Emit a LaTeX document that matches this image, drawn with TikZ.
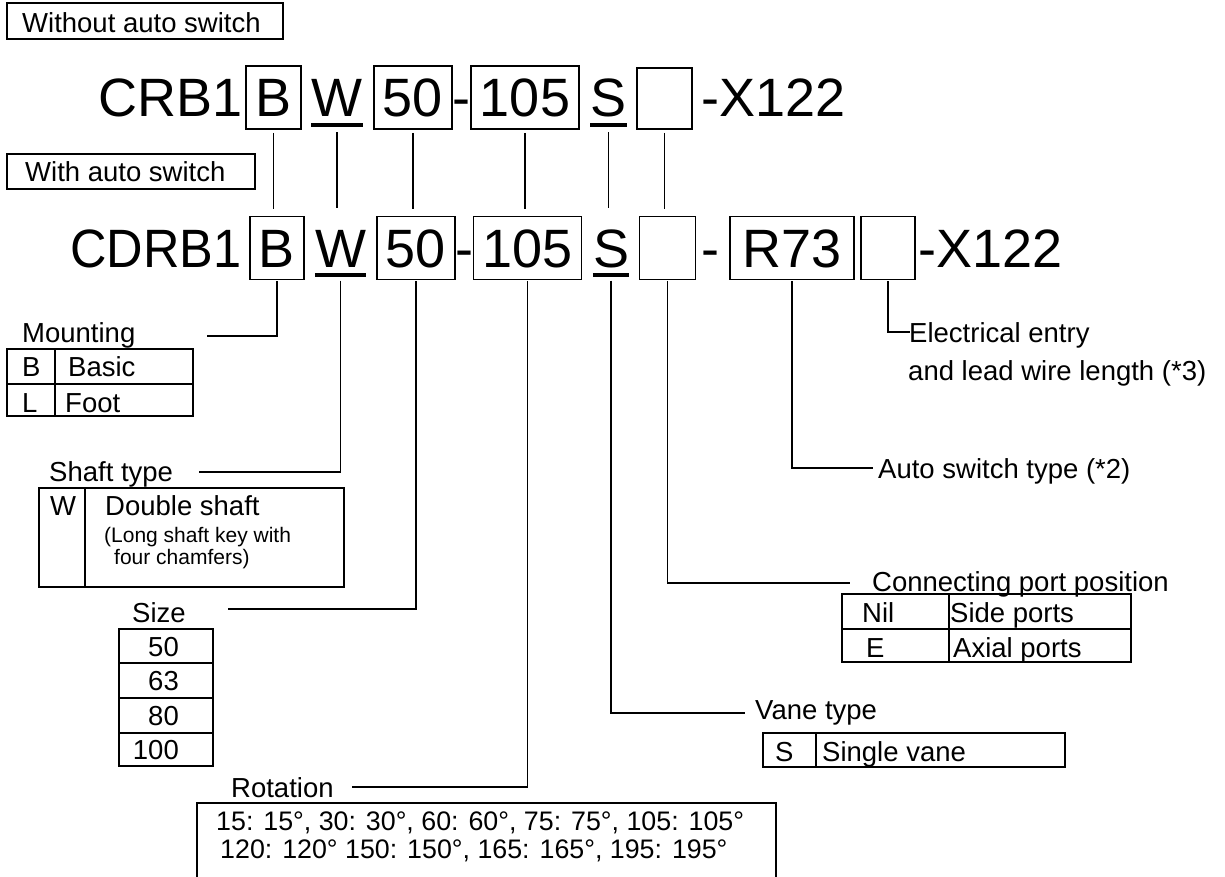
\documentclass[tikz,border=0pt]{standalone}
\usepackage{graphicx}
\usepackage{fontspec}
\setmainfont{Liberation Sans}
\begin{document}
\begin{tikzpicture}[x=1pt,y=-1pt,
  code/.style={font=\fontsize{54}{60}\selectfont, inner sep=0pt, minimum height=63pt, text height=38.7pt, text depth=0pt},
  cbox/.style={code, draw, line width=1.8pt},
  conn/.style={line width=1.3pt},
  uline/.style={line width=4pt},
  tab/.style={line width=1.6pt},
  lbl/.style={font=\fontsize{27.5}{32}\selectfont, inner sep=0pt, anchor=base west},
  rot/.style={font=\fontsize{26.8}{32}\selectfont, inner sep=0pt, anchor=base west},
  sm/.style={font=\fontsize{21}{24}\selectfont, inner sep=0pt, anchor=base west},
]
\fill[white] (0,0) rectangle (1225,877);
\clip (0,0) rectangle (1225,877);

% headers
\draw[tab] (7,3) rectangle (283,39);
\node[lbl] (hA) at (22,33) {Without auto switch};
\draw[tab] (7,154) rectangle (255,189);
\node[lbl] (hB) at (25,182) {With auto switch};

% top row
\node[code, anchor=base west] (tCRB) at (98,116.85) {CRB1};
\node[cbox, minimum width=55pt] (tB) at (273.5,97.5) {B};
\node[code, minimum width=50pt] (tW) at (337,97.5) {W};
\draw[uline] ([yshift=4pt]tW.south west) -- ([yshift=4pt]tW.south east);
\node[cbox, minimum width=78pt] (t50) at (413,97.5) {50};
\node[code] (tD1) at (461,97.5) {-};
\node[cbox, minimum width=108pt] (t105) at (525,97.5) {105};
\node[code, minimum width=35pt] (tS) at (608.5,97.5) {S};
\draw[uline] ([yshift=4pt]tS.south west) -- ([yshift=4pt]tS.south east);
\node[cbox, minimum width=55pt, minimum height=61pt] (tE) at (664.5,98.5) {};
\node[code, anchor=base west] (tX) at (701,116.85) {-X122};

% bottom row
\node[code, anchor=base west] (bCDRB) at (70,267.35) {\scalebox{0.935}[1]{CDRB1}};
\node[cbox, minimum width=54pt] (bB) at (277,248) {B};
\node[code, minimum width=51pt] (bW) at (340.5,248) {W};
\draw[uline] ([yshift=5pt]bW.south west) -- ([yshift=5pt]bW.south east);
\node[cbox, minimum width=78pt] (b50) at (416,248) {50};
\node[code] (bD1) at (464,248) {-};
\node[cbox, minimum width=108pt] (b105) at (527.5,248) {105};
\node[code, minimum width=34pt] (bS) at (611,248) {S};
\draw[uline] ([yshift=5pt]bS.south west) -- ([yshift=5pt]bS.south east);
\node[cbox, minimum width=56pt] (bE) at (667.5,248) {};
\node[code] (bD2) at (710,248) {-};
\node[cbox, minimum width=124pt] (bR) at (792,248) {R73};
\node[cbox, minimum width=54pt] (bE2) at (888,248) {};
\node[code, anchor=base west] (bX) at (918,267.35) {-X122};

% inter-row connectors
\foreach \n in {tB,tW,t50,t105,tS,tE}
  \draw[conn] ([yshift=-3pt]\n.south) -- ++(0,76);

% Mounting
\coordinate (cMount) at (207,336);
\draw[conn] ([yshift=-1pt]bB.south) |- (cMount);
\node[lbl] (lMount) at (22,342) {Mounting};
\draw[tab] (7,349) rectangle (193,416);
\draw[tab] (7,384) -- (193,384);
\draw[tab] (55,349) -- (55,416);
\node[lbl] (mB) at (22,376) {B};
\node[lbl] (mBasic) at (68,376) {Basic};
\node[lbl] (mL) at (22,412) {L};
\node[lbl] (mFoot) at (65,412) {Foot};

% Shaft type
\coordinate (cShaft) at (199,472);
\draw[conn] ([yshift=-1pt]bW.south) |- (cShaft);
\node[lbl] (lShaft) at (49,481) {Shaft type};
\draw[tab] (39,488) rectangle (344,587);
\draw[tab] (85,488) -- (85,587);
\node[lbl] (sW) at (50,515) {W};
\node[lbl] (sD) at (105,515) {Double shaft};
\node[sm] (sL1) at (104,542) {(Long shaft key with};
\node[sm] (sL2) at (114,564) {four chamfers)};

% Size
\coordinate (cSize) at (228,609);
\draw[conn] ([yshift=-1pt]b50.south) |- (cSize);
\node[lbl] (lSize) at (132,622) {Size};
\draw[tab] (119,629) rectangle (213,766);
\draw[tab] (119,663) -- (213,663);
\draw[tab] (119,698) -- (213,698);
\draw[tab] (119,733) -- (213,733);
\node[lbl, anchor=base east] (z50) at (179,656) {50};
\node[lbl, anchor=base east] (z63) at (179,690.5) {63};
\node[lbl, anchor=base east] (z80) at (179,725.5) {80};
\node[lbl, anchor=base east] (z100) at (179,759.5) {100};

% Rotation
\coordinate (cRot) at (352,787);
\draw[conn] ([yshift=-1pt]b105.south) |- (cRot);
\node[lbl] (lRot) at (231,797) {Rotation};
\draw[tab] (197,880) -- (197,803) -- (776,803) -- (776,880);
\node[rot] (r1) at (216,830) {15: 15°, 30: 30°, 60: 60°, 75: 75°, 105: 105°};
\node[rot] (r2) at (220,858) {120: 120° 150: 150°, 165: 165°, 195: 195°};

% Connecting port position
\coordinate (cPort) at (850,583);
\draw[conn] ([yshift=-1pt]bE.south) |- (cPort);
\node[lbl] (lPort) at (872,591) {Connecting port position};
\draw[tab] (842,594) rectangle (1131,662);
\draw[tab] (842,629) -- (1131,629);
\draw[tab] (949,594) -- (949,662);
\node[lbl] (pNil) at (862,622) {Nil};
\node[lbl] (pSide) at (950,622) {Side ports};
\node[lbl] (pE) at (866,657) {E};
\node[lbl] (pAx) at (953,657) {Axial ports};

% Vane type
\coordinate (cVane) at (745,713);
\draw[conn] ([yshift=-1pt]bS.south) |- (cVane);
\node[lbl] (lVane) at (755,719) {Vane type};
\draw[tab] (763,733) rectangle (1065,767);
\draw[tab] (816,733) -- (816,767);
\node[lbl] (vS) at (775,761) {S};
\node[lbl] (vSingle) at (822,761) {Single vane};

% Auto switch type
\coordinate (cAuto) at (873,468);
\draw[conn] ([yshift=-1pt]bR.south) |- (cAuto);
\node[lbl] (lAuto) at (878,478) {Auto switch type (*2)};

% Electrical entry
\coordinate (cElec) at (910,332);
\draw[conn] ([yshift=-1pt]bE2.south) |- (cElec);
\node[lbl] (lElec) at (909,342) {Electrical entry};
\node[lbl] (lElec2) at (908,380) {and lead wire length (*3)};
\end{tikzpicture}
\end{document}
